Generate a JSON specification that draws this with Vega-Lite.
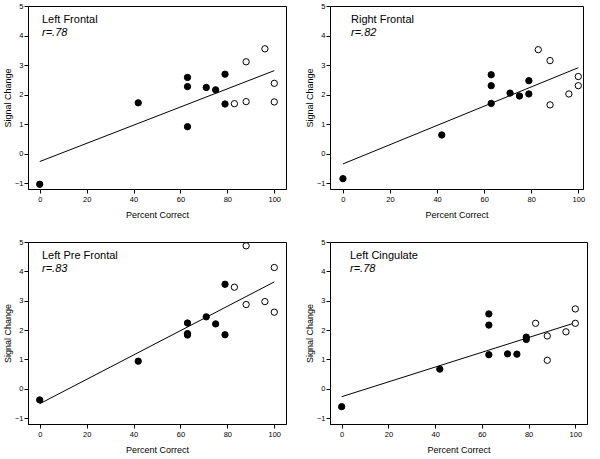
{
  "$schema": "https://vega.github.io/schema/vega-lite/v6.json",
  "background": "white",
  "padding": {"left": 2, "top": 1, "right": 0, "bottom": 0},
  "datasets": {
    "pts": [
      {"panel": "Left Frontal", "pct": 0, "signal": -1.04, "group": "filled"},
      {"panel": "Left Frontal", "pct": 42, "signal": 1.72, "group": "filled"},
      {"panel": "Left Frontal", "pct": 63, "signal": 2.58, "group": "filled"},
      {"panel": "Left Frontal", "pct": 63, "signal": 2.27, "group": "filled"},
      {"panel": "Left Frontal", "pct": 63, "signal": 0.91, "group": "filled"},
      {"panel": "Left Frontal", "pct": 71, "signal": 2.24, "group": "filled"},
      {"panel": "Left Frontal", "pct": 75, "signal": 2.16, "group": "filled"},
      {"panel": "Left Frontal", "pct": 79, "signal": 2.69, "group": "filled"},
      {"panel": "Left Frontal", "pct": 79, "signal": 1.68, "group": "filled"},
      {"panel": "Left Frontal", "pct": 83, "signal": 1.69, "group": "open"},
      {"panel": "Left Frontal", "pct": 88, "signal": 3.11, "group": "open"},
      {"panel": "Left Frontal", "pct": 88, "signal": 1.76, "group": "open"},
      {"panel": "Left Frontal", "pct": 96, "signal": 3.55, "group": "open"},
      {"panel": "Left Frontal", "pct": 100, "signal": 2.38, "group": "open"},
      {"panel": "Left Frontal", "pct": 100, "signal": 1.75, "group": "open"},
      {"panel": "Right Frontal", "pct": 0, "signal": -0.85, "group": "filled"},
      {"panel": "Right Frontal", "pct": 42, "signal": 0.63, "group": "filled"},
      {"panel": "Right Frontal", "pct": 63, "signal": 2.67, "group": "filled"},
      {"panel": "Right Frontal", "pct": 63, "signal": 2.30, "group": "filled"},
      {"panel": "Right Frontal", "pct": 63, "signal": 1.70, "group": "filled"},
      {"panel": "Right Frontal", "pct": 71, "signal": 2.05, "group": "filled"},
      {"panel": "Right Frontal", "pct": 75, "signal": 1.95, "group": "filled"},
      {"panel": "Right Frontal", "pct": 79, "signal": 2.47, "group": "filled"},
      {"panel": "Right Frontal", "pct": 79, "signal": 2.02, "group": "filled"},
      {"panel": "Right Frontal", "pct": 83, "signal": 3.52, "group": "open"},
      {"panel": "Right Frontal", "pct": 88, "signal": 3.15, "group": "open"},
      {"panel": "Right Frontal", "pct": 88, "signal": 1.65, "group": "open"},
      {"panel": "Right Frontal", "pct": 96, "signal": 2.02, "group": "open"},
      {"panel": "Right Frontal", "pct": 100, "signal": 2.61, "group": "open"},
      {"panel": "Right Frontal", "pct": 100, "signal": 2.30, "group": "open"},
      {"panel": "Left Pre Frontal", "pct": 0, "signal": -0.38, "group": "filled"},
      {"panel": "Left Pre Frontal", "pct": 42, "signal": 0.94, "group": "filled"},
      {"panel": "Left Pre Frontal", "pct": 63, "signal": 2.24, "group": "filled"},
      {"panel": "Left Pre Frontal", "pct": 63, "signal": 1.88, "group": "filled"},
      {"panel": "Left Pre Frontal", "pct": 63, "signal": 1.83, "group": "filled"},
      {"panel": "Left Pre Frontal", "pct": 71, "signal": 2.45, "group": "filled"},
      {"panel": "Left Pre Frontal", "pct": 75, "signal": 2.21, "group": "filled"},
      {"panel": "Left Pre Frontal", "pct": 79, "signal": 3.56, "group": "filled"},
      {"panel": "Left Pre Frontal", "pct": 79, "signal": 1.84, "group": "filled"},
      {"panel": "Left Pre Frontal", "pct": 83, "signal": 3.46, "group": "open"},
      {"panel": "Left Pre Frontal", "pct": 88, "signal": 4.87, "group": "open"},
      {"panel": "Left Pre Frontal", "pct": 88, "signal": 2.87, "group": "open"},
      {"panel": "Left Pre Frontal", "pct": 96, "signal": 2.97, "group": "open"},
      {"panel": "Left Pre Frontal", "pct": 100, "signal": 4.13, "group": "open"},
      {"panel": "Left Pre Frontal", "pct": 100, "signal": 2.61, "group": "open"},
      {"panel": "Left Cingulate", "pct": 0, "signal": -0.61, "group": "filled"},
      {"panel": "Left Cingulate", "pct": 42, "signal": 0.67, "group": "filled"},
      {"panel": "Left Cingulate", "pct": 63, "signal": 2.55, "group": "filled"},
      {"panel": "Left Cingulate", "pct": 63, "signal": 2.17, "group": "filled"},
      {"panel": "Left Cingulate", "pct": 63, "signal": 1.16, "group": "filled"},
      {"panel": "Left Cingulate", "pct": 71, "signal": 1.19, "group": "filled"},
      {"panel": "Left Cingulate", "pct": 75, "signal": 1.18, "group": "filled"},
      {"panel": "Left Cingulate", "pct": 79, "signal": 1.76, "group": "filled"},
      {"panel": "Left Cingulate", "pct": 79, "signal": 1.68, "group": "filled"},
      {"panel": "Left Cingulate", "pct": 83, "signal": 2.23, "group": "open"},
      {"panel": "Left Cingulate", "pct": 88, "signal": 1.80, "group": "open"},
      {"panel": "Left Cingulate", "pct": 88, "signal": 0.97, "group": "open"},
      {"panel": "Left Cingulate", "pct": 96, "signal": 1.94, "group": "open"},
      {"panel": "Left Cingulate", "pct": 100, "signal": 2.72, "group": "open"},
      {"panel": "Left Cingulate", "pct": 100, "signal": 2.23, "group": "open"}
    ],
    "fits": [
      {"panel": "Left Frontal", "pct": 0, "signal": -0.27},
      {"panel": "Left Frontal", "pct": 100, "signal": 2.81},
      {"panel": "Right Frontal", "pct": 0, "signal": -0.35},
      {"panel": "Right Frontal", "pct": 100, "signal": 2.91},
      {"panel": "Left Pre Frontal", "pct": 0, "signal": -0.51},
      {"panel": "Left Pre Frontal", "pct": 100, "signal": 3.64},
      {"panel": "Left Cingulate", "pct": 0, "signal": -0.27},
      {"panel": "Left Cingulate", "pct": 100, "signal": 2.25}
    ]
  },
  "vconcat": [
    {
      "hconcat": [
        {
          "width": 258, "height": 183,
          "title": {"text": "Left Frontal", "subtitle": "r=.78", "frame": "group", "anchor": "start", "dx": 14, "offset": -36},
          "layer": [
            {"data": {"name": "fits"}, "transform": [{"filter": "datum.panel === 'Left Frontal'"}],
             "mark": {"type": "line", "color": "black", "strokeWidth": 1},
             "encoding": {
               "x": {"field": "pct", "type": "quantitative", "scale": {"domain": [-5, 105], "nice": false, "zero": false}, "axis": {"values": [0, 20, 40, 60, 80, 100], "tickCount": 20, "format": "d", "title": "Percent Correct"}},
               "y": {"field": "signal", "type": "quantitative", "scale": {"domain": [-1.2, 5], "nice": false, "zero": false}, "axis": {"values": [-1, 0, 1, 2, 3, 4, 5], "tickCount": 20, "format": "d", "title": "Signal Change"}}}},
            {"data": {"name": "pts"}, "transform": [{"filter": "datum.panel === 'Left Frontal'"}],
             "mark": {"type": "circle", "size": 40, "stroke": "black", "strokeWidth": 1, "opacity": 1},
             "encoding": {
               "x": {"field": "pct", "type": "quantitative"},
               "y": {"field": "signal", "type": "quantitative"},
               "fill": {"field": "group", "type": "nominal", "scale": {"domain": ["filled", "open"], "range": ["black", "white"]}, "legend": null}}}
          ]
        },
        {
          "width": 253, "height": 183,
          "title": {"text": "Right Frontal", "subtitle": "r=.82", "frame": "group", "anchor": "start", "dx": 21, "offset": -36},
          "layer": [
            {"data": {"name": "fits"}, "transform": [{"filter": "datum.panel === 'Right Frontal'"}],
             "mark": {"type": "line", "color": "black", "strokeWidth": 1},
             "encoding": {
               "x": {"field": "pct", "type": "quantitative", "scale": {"domain": [-5.5, 102], "nice": false, "zero": false}, "axis": {"values": [0, 20, 40, 60, 80, 100], "tickCount": 20, "format": "d", "title": "Percent Correct"}},
               "y": {"field": "signal", "type": "quantitative", "scale": {"domain": [-1.2, 5], "nice": false, "zero": false}, "axis": {"values": [-1, 0, 1, 2, 3, 4, 5], "tickCount": 20, "format": "d", "title": "Signal Change"}}}},
            {"data": {"name": "pts"}, "transform": [{"filter": "datum.panel === 'Right Frontal'"}],
             "mark": {"type": "circle", "size": 40, "stroke": "black", "strokeWidth": 1, "opacity": 1},
             "encoding": {
               "x": {"field": "pct", "type": "quantitative"},
               "y": {"field": "signal", "type": "quantitative"},
               "fill": {"field": "group", "type": "nominal", "scale": {"domain": ["filled", "open"], "range": ["black", "white"]}, "legend": null}}}
          ]
        }
      ]
    },
    {
      "hconcat": [
        {
          "width": 258, "height": 182,
          "title": {"text": "Left Pre Frontal", "subtitle": "r=.83", "frame": "group", "anchor": "start", "dx": 14, "offset": -36},
          "layer": [
            {"data": {"name": "fits"}, "transform": [{"filter": "datum.panel === 'Left Pre Frontal'"}],
             "mark": {"type": "line", "color": "black", "strokeWidth": 1},
             "encoding": {
               "x": {"field": "pct", "type": "quantitative", "scale": {"domain": [-5, 105], "nice": false, "zero": false}, "axis": {"values": [0, 20, 40, 60, 80, 100], "tickCount": 20, "format": "d", "title": "Percent Correct"}},
               "y": {"field": "signal", "type": "quantitative", "scale": {"domain": [-1.2, 5], "nice": false, "zero": false}, "axis": {"values": [-1, 0, 1, 2, 3, 4, 5], "tickCount": 20, "format": "d", "title": "Signal Change"}}}},
            {"data": {"name": "pts"}, "transform": [{"filter": "datum.panel === 'Left Pre Frontal'"}],
             "mark": {"type": "circle", "size": 40, "stroke": "black", "strokeWidth": 1, "opacity": 1},
             "encoding": {
               "x": {"field": "pct", "type": "quantitative"},
               "y": {"field": "signal", "type": "quantitative"},
               "fill": {"field": "group", "type": "nominal", "scale": {"domain": ["filled", "open"], "range": ["black", "white"]}, "legend": null}}}
          ]
        },
        {
          "width": 257, "height": 182,
          "title": {"text": "Left Cingulate", "subtitle": "r=.78", "frame": "group", "anchor": "start", "dx": 20, "offset": -36},
          "layer": [
            {"data": {"name": "fits"}, "transform": [{"filter": "datum.panel === 'Left Cingulate'"}],
             "mark": {"type": "line", "color": "black", "strokeWidth": 1},
             "encoding": {
               "x": {"field": "pct", "type": "quantitative", "scale": {"domain": [-5, 105], "nice": false, "zero": false}, "axis": {"values": [0, 20, 40, 60, 80, 100], "tickCount": 20, "format": "d", "title": "Percent Correct"}},
               "y": {"field": "signal", "type": "quantitative", "scale": {"domain": [-1.2, 5], "nice": false, "zero": false}, "axis": {"values": [-1, 0, 1, 2, 3, 4, 5], "tickCount": 20, "format": "d", "title": "Signal Change"}}}},
            {"data": {"name": "pts"}, "transform": [{"filter": "datum.panel === 'Left Cingulate'"}],
             "mark": {"type": "circle", "size": 40, "stroke": "black", "strokeWidth": 1, "opacity": 1},
             "encoding": {
               "x": {"field": "pct", "type": "quantitative"},
               "y": {"field": "signal", "type": "quantitative"},
               "fill": {"field": "group", "type": "nominal", "scale": {"domain": ["filled", "open"], "range": ["black", "white"]}, "legend": null}}}
          ]
        }
      ]
    }
  ],
  "spacing": 17,
  "config": {
    "concat": {"spacing": 17},
    "view": {"stroke": "black", "strokeWidth": 1},
    "axis": {
      "grid": false,
      "domainColor": "black",
      "tickColor": "black",
      "tickSize": 4,
      "labelColor": "black",
      "labelFont": "Liberation Sans",
      "labelFontSize": 7.5,
      "labelOverlap": false,
      "labelBound": false,
      "titleFont": "Liberation Sans",
      "titleFontSize": 9,
      "titleFontWeight": "normal",
      "titleColor": "black"
    },
    "axisX": {"labelPadding": 2, "titlePadding": 8},
    "axisY": {"labelPadding": 1, "titlePadding": 2},
    "title": {
      "font": "Liberation Sans",
      "fontSize": 11,
      "fontWeight": "normal",
      "color": "black",
      "subtitleFont": "Liberation Sans",
      "subtitleFontSize": 11,
      "subtitleFontStyle": "italic",
      "subtitleColor": "black",
      "subtitlePadding": 2
    }
  }
}
